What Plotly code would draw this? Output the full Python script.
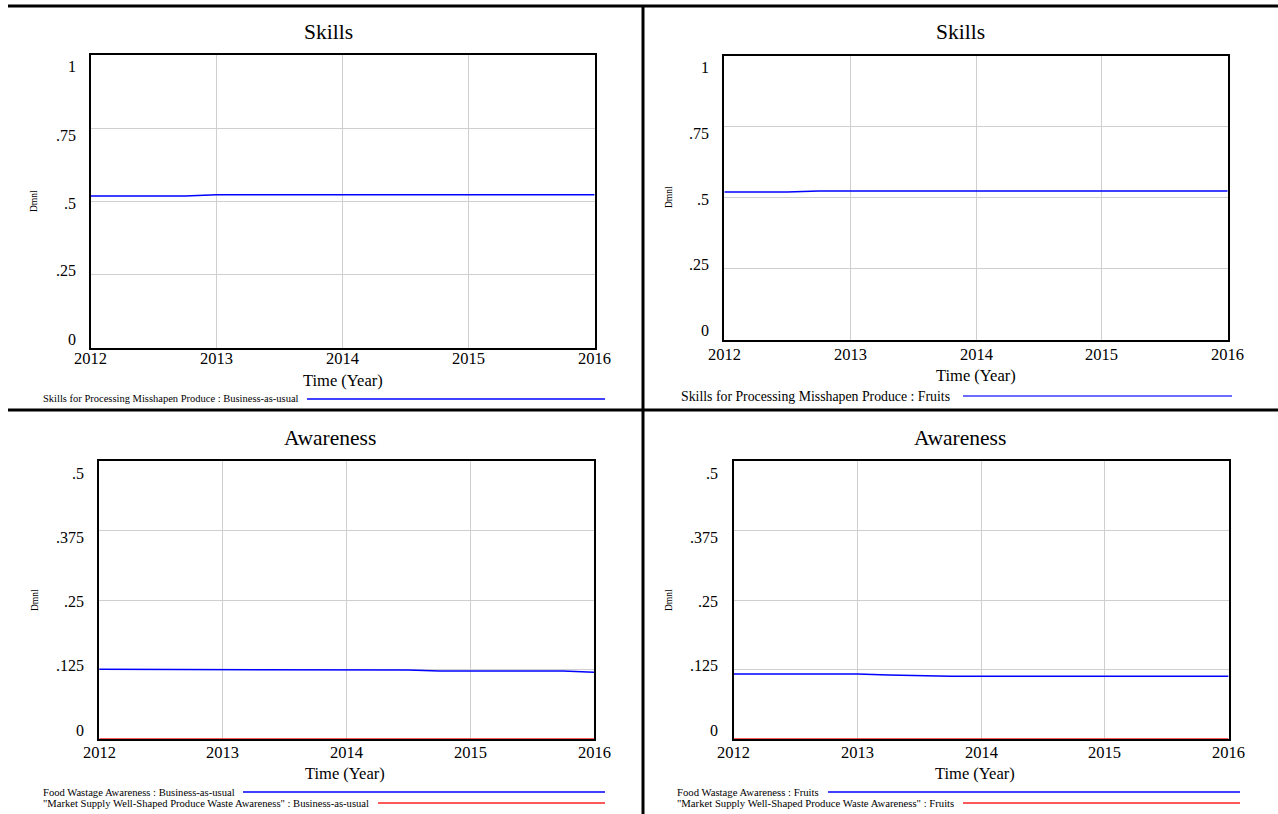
import plotly.graph_objects as go

W, H = 1278, 814

# ---------------- data ----------------
time = [2012.0, 2012.25, 2012.5, 2012.75, 2013.0, 2013.25, 2013.5, 2013.75, 2014.0,
        2014.25, 2014.5, 2014.75, 2015.0, 2015.25, 2015.5, 2015.75, 2016.0]

skills_bau = [0.519, 0.519, 0.519, 0.519, 0.523, 0.523, 0.523, 0.523, 0.523,
              0.523, 0.523, 0.523, 0.523, 0.523, 0.523, 0.523, 0.523]
skills_fruits = [0.519, 0.519, 0.519, 0.523, 0.523, 0.523, 0.523, 0.523, 0.523,
                 0.523, 0.523, 0.523, 0.523, 0.523, 0.523, 0.523, 0.523]

awareness_bau = [0.1254, 0.1254, 0.1254, 0.1254, 0.1254, 0.1254, 0.1242, 0.1242, 0.1242,
                 0.1242, 0.1242, 0.1224, 0.1224, 0.1224, 0.1224, 0.1224, 0.1200]
awareness_fruits = [0.1171, 0.1171, 0.1171, 0.1171, 0.1171, 0.1153, 0.1140, 0.1129, 0.1129,
                    0.1129, 0.1129, 0.1129, 0.1129, 0.1129, 0.1129, 0.1129, 0.1129]
market_bau = [0, 0, 0, 0, 0, 0, 0, 0, 0, 0, 0, 0, 0, 0, 0, 0, 0]
market_fruits = [0, 0, 0, 0, 0, 0, 0, 0, 0, 0, 0, 0, 0, 0, 0, 0, 0]

x_ticks = [2012, 2013, 2014, 2015, 2016]
skills_ticks = [0, 0.25, 0.5, 0.75, 1]
skills_ticktext = ["0", ".25", ".5", ".75", "1"]
aware_ticks = [0, 0.125, 0.25, 0.375, 0.5]
aware_ticktext = ["0", ".125", ".25", ".375", ".5"]

titles = ["Skills", "Skills", "Awareness", "Awareness"]
x_title = "Time (Year)"
y_unit = "Dmnl"

legend_tl = ["Skills for Processing Misshapen Produce : Business-as-usual"]
legend_tr = ["Skills for Processing Misshapen Produce : Fruits"]
legend_bl = ["Food Wastage Awareness : Business-as-usual",
             "\"Market Supply Well-Shaped Produce Waste Awareness\" : Business-as-usual"]
legend_br = ["Food Wastage Awareness : Fruits",
             "\"Market Supply Well-Shaped Produce Waste Awareness\" : Fruits"]

BLUE = "#0000ff"
RED = "#ff2020"
FONT = "Liberation Serif, Times New Roman, serif"

# ---------------- layout geometry (pixels) ----------------
panels = [
    dict(box=(90.6, 594.6, 55, 348), series=[(skills_bau, BLUE)], ymax=1,
         ticks=skills_ticks, ticktext=skills_ticktext, title_xy=(328, 32),
         lab_right=78, xlab_y=359, xt_xy=(343, 380), dmnl_xy=(34, 201),
         legend=legend_tl, leg_colors=[BLUE], leg_text_x=41, leg_line=[(307, 605)],
         leg_y=[399], leg_size=10.5),
    dict(box=(724.3, 1227.7, 55.5, 339.5), series=[(skills_fruits, BLUE)], ymax=1,
         ticks=skills_ticks, ticktext=skills_ticktext, title_xy=(960, 32),
         lab_right=711, xlab_y=354, xt_xy=(976, 375), dmnl_xy=(669, 197),
         legend=legend_tr, leg_colors=["#3a3aff"], leg_text_x=679, leg_line=[(963, 1232)],
         leg_y=[396], leg_size=13.8),
    dict(box=(99.2, 594, 461.3, 739), series=[(awareness_bau, BLUE), (market_bau, RED)], ymax=0.5,
         ticks=aware_ticks, ticktext=aware_ticktext, title_xy=(330, 438),
         lab_right=86, xlab_y=752, xt_xy=(345, 773), dmnl_xy=(35, 600),
         legend=legend_bl, leg_colors=[BLUE, RED], leg_text_x=41,
         leg_line=[(243, 605), (378, 605)], leg_y=[792, 803], leg_size=10.6),
    dict(box=(733.9, 1228.6, 461.3, 739), series=[(awareness_fruits, BLUE), (market_fruits, RED)], ymax=0.5,
         ticks=aware_ticks, ticktext=aware_ticktext, title_xy=(960, 438),
         lab_right=720, xlab_y=752, xt_xy=(975, 773), dmnl_xy=(669, 600),
         legend=legend_br, leg_colors=[BLUE, RED], leg_text_x=675,
         leg_line=[(828, 1240), (963, 1240)], leg_y=[792, 803], leg_size=10.7),
]


def px(x):
    return x / W


def py(y):
    return 1 - y / H


fig = go.Figure()
annotations = []
shapes = []

for i, p in enumerate(panels, start=1):
    xa = "x" if i == 1 else f"x{i}"
    ya = "y" if i == 1 else f"y{i}"
    x0, x1, y0, y1 = p["box"]
    for vals, col in p["series"]:
        fig.add_trace(go.Scatter(x=time, y=vals, mode="lines", xaxis=xa, yaxis=ya,
                                 line=dict(color=col, width=1.5), showlegend=False,
                                 hoverinfo="skip"))
    axis_common = dict(showline=True, mirror=True, linecolor="black", linewidth=2,
                       showgrid=True, gridcolor="#cfcfcf", gridwidth=1, zeroline=False,
                       ticks="")
    fig.layout[f"xaxis{'' if i == 1 else i}"] = dict(
        domain=[px(x0), px(x1)], range=[2012, 2016], tickvals=x_ticks,
        anchor=ya, showticklabels=False, **axis_common)
    fig.layout[f"yaxis{'' if i == 1 else i}"] = dict(
        domain=[py(y1), py(y0)], range=[0, p["ymax"]], tickvals=p["ticks"],
        anchor=xa, showticklabels=False, **axis_common)

    # x tick labels
    for t in x_ticks:
        annotations.append(dict(x=t, xref=xa, y=py(p["xlab_y"]), yref="paper",
                                text=str(t), showarrow=False, xanchor="center", yanchor="middle",
                                font=dict(family=FONT, size=16.5, color="black")))
    # y tick labels, spread evenly inside the box
    top_lab = y0 + 12
    bot_lab = y1 - 9
    n = len(p["ticks"])
    for k, (tv, tt) in enumerate(zip(p["ticks"], p["ticktext"])):
        yy = bot_lab - (bot_lab - top_lab) * k / (n - 1)
        annotations.append(dict(x=px(p["lab_right"]), xref="paper", y=py(yy), yref="paper",
                                text=tt, showarrow=False, xanchor="right", yanchor="middle",
                                font=dict(family=FONT, size=16, color="black")))
    # title
    annotations.append(dict(x=px(p["title_xy"][0]), y=py(p["title_xy"][1]), xref="paper", yref="paper",
                            text=titles[i - 1], showarrow=False, xanchor="center", yanchor="middle",
                            font=dict(family=FONT, size=21.5, color="black")))
    # x axis title
    annotations.append(dict(x=px(p["xt_xy"][0]), y=py(p["xt_xy"][1]), xref="paper", yref="paper",
                            text=x_title, showarrow=False, xanchor="center", yanchor="middle",
                            font=dict(family=FONT, size=16.5, color="black")))
    # y unit
    annotations.append(dict(x=px(p["dmnl_xy"][0]), y=py(p["dmnl_xy"][1]), xref="paper", yref="paper",
                            text=y_unit, showarrow=False, textangle=-90, xanchor="center", yanchor="middle",
                            font=dict(family=FONT, size=9.5, color="black")))
    # legend entries
    for txt, col, (lx0, lx1), ly in zip(p["legend"], p["leg_colors"], p["leg_line"], p["leg_y"]):
        annotations.append(dict(x=px(p["leg_text_x"]), y=py(ly), xref="paper", yref="paper",
                                text=txt, showarrow=False, xanchor="left", yanchor="middle",
                                font=dict(family=FONT, size=p["leg_size"], color="black")))
        shapes.append(dict(type="line", xref="paper", yref="paper", x0=px(lx0), x1=px(lx1),
                           y0=py(ly), y1=py(ly), line=dict(color=col, width=1.5)))

# dividers
shapes.append(dict(type="line", xref="paper", yref="paper", x0=px(8), x1=1, y0=py(6), y1=py(6),
                   line=dict(color="black", width=3)))
shapes.append(dict(type="line", xref="paper", yref="paper", x0=px(8), x1=1, y0=py(410), y1=py(410),
                   line=dict(color="black", width=3)))
shapes.append(dict(type="line", xref="paper", yref="paper", x0=px(643), x1=px(643), y0=py(6), y1=0,
                   line=dict(color="black", width=3)))

fig.update_layout(width=W, height=H, margin=dict(l=0, r=0, t=0, b=0),
                  paper_bgcolor="white", plot_bgcolor="white",
                  annotations=annotations, shapes=shapes, showlegend=False,
                  font=dict(family=FONT, color="black"))

fig.write_html("out.html")
